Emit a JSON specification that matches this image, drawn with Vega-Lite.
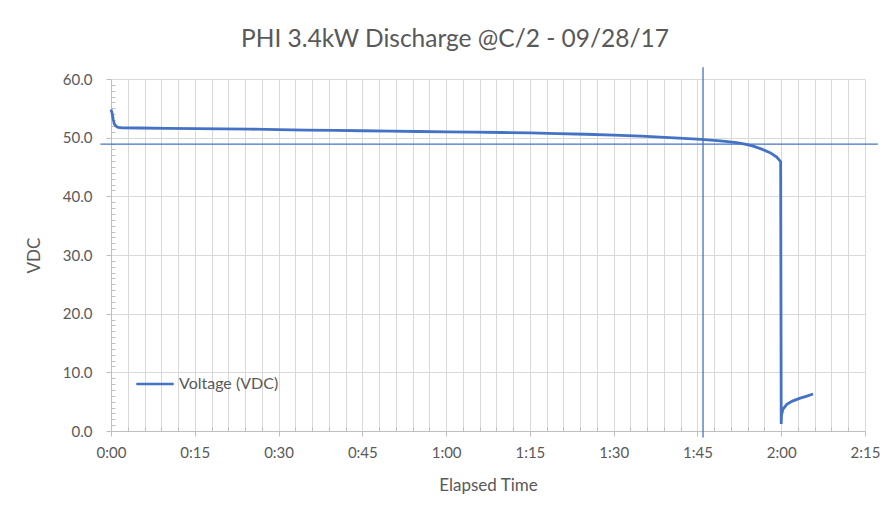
{
  "$schema": "https://vega.github.io/schema/vega-lite/v6.json",
  "width": 754,
  "height": 352,
  "autosize": {"type": "none"},
  "padding": {"left": 111, "top": 79, "right": 27, "bottom": 83},
  "background": "white",
  "title": {
    "text": "PHI 3.4kW Discharge @C/2 - 09/28/17",
    "font": "Lato",
    "fontSize": 24.5,
    "fontWeight": "normal",
    "color": "#595959",
    "anchor": "middle",
    "dx": -33,
    "offset": 14
  },
  "config": {
    "view": {"stroke": null},
    "axis": {
      "labelFont": "Lato",
      "labelFontSize": 15,
      "labelColor": "#595959",
      "titleFont": "Lato",
      "titleFontSize": 17,
      "titleFontWeight": "normal",
      "titleColor": "#595959",
      "gridColor": "#d9d9d9",
      "domainColor": "#bfbfbf",
      "tickColor": "#bfbfbf",
      "labelOverlap": false,
      "labelBound": false,
      "labelFlush": false
    },
    "legend": {"labelFont": "Lato", "labelFontSize": 16, "labelColor": "#595959"}
  },
  "datasets": {
    "volts": [
      {"t": 0, "v": 54.8, "s": "Voltage (VDC)"},
      {"t": 0.2, "v": 54.2, "s": "Voltage (VDC)"},
      {"t": 0.4, "v": 53.1, "s": "Voltage (VDC)"},
      {"t": 0.6, "v": 52.3, "s": "Voltage (VDC)"},
      {"t": 0.9, "v": 51.95, "s": "Voltage (VDC)"},
      {"t": 1.3, "v": 51.75, "s": "Voltage (VDC)"},
      {"t": 2, "v": 51.68, "s": "Voltage (VDC)"},
      {"t": 5, "v": 51.65, "s": "Voltage (VDC)"},
      {"t": 10, "v": 51.6, "s": "Voltage (VDC)"},
      {"t": 15, "v": 51.55, "s": "Voltage (VDC)"},
      {"t": 20, "v": 51.5, "s": "Voltage (VDC)"},
      {"t": 25, "v": 51.45, "s": "Voltage (VDC)"},
      {"t": 30, "v": 51.38, "s": "Voltage (VDC)"},
      {"t": 35, "v": 51.3, "s": "Voltage (VDC)"},
      {"t": 40, "v": 51.25, "s": "Voltage (VDC)"},
      {"t": 45, "v": 51.18, "s": "Voltage (VDC)"},
      {"t": 50, "v": 51.12, "s": "Voltage (VDC)"},
      {"t": 55, "v": 51.05, "s": "Voltage (VDC)"},
      {"t": 60, "v": 51.0, "s": "Voltage (VDC)"},
      {"t": 65, "v": 50.95, "s": "Voltage (VDC)"},
      {"t": 70, "v": 50.88, "s": "Voltage (VDC)"},
      {"t": 75, "v": 50.8, "s": "Voltage (VDC)"},
      {"t": 80, "v": 50.7, "s": "Voltage (VDC)"},
      {"t": 85, "v": 50.58, "s": "Voltage (VDC)"},
      {"t": 90, "v": 50.42, "s": "Voltage (VDC)"},
      {"t": 95, "v": 50.25, "s": "Voltage (VDC)"},
      {"t": 100, "v": 50.02, "s": "Voltage (VDC)"},
      {"t": 105, "v": 49.75, "s": "Voltage (VDC)"},
      {"t": 108, "v": 49.55, "s": "Voltage (VDC)"},
      {"t": 110, "v": 49.38, "s": "Voltage (VDC)"},
      {"t": 112, "v": 49.15, "s": "Voltage (VDC)"},
      {"t": 113.5, "v": 48.9, "s": "Voltage (VDC)"},
      {"t": 115, "v": 48.55, "s": "Voltage (VDC)"},
      {"t": 116.5, "v": 48.05, "s": "Voltage (VDC)"},
      {"t": 118, "v": 47.45, "s": "Voltage (VDC)"},
      {"t": 119.2, "v": 46.7, "s": "Voltage (VDC)"},
      {"t": 119.9, "v": 45.9, "s": "Voltage (VDC)"},
      {"t": 120.0, "v": 1.2, "s": "Voltage (VDC)"},
      {"t": 120.05, "v": 2.7, "s": "Voltage (VDC)"},
      {"t": 120.3, "v": 3.7, "s": "Voltage (VDC)"},
      {"t": 121, "v": 4.55, "s": "Voltage (VDC)"},
      {"t": 122, "v": 5.1, "s": "Voltage (VDC)"},
      {"t": 123.4, "v": 5.6, "s": "Voltage (VDC)"},
      {"t": 124.6, "v": 5.95, "s": "Voltage (VDC)"},
      {"t": 125.7, "v": 6.3, "s": "Voltage (VDC)"}
    ],
    "hline": [{"x1": -1.9, "x2": 137.3, "y": 48.9}],
    "vline": [{"x": 106, "y1": -1.1, "y2": 62.0}]
  },
  "layer": [
    {
      "data": {"name": "volts"},
      "mark": {"type": "line", "strokeWidth": 2.8, "interpolate": "linear"},
      "encoding": {
        "x": {
          "field": "t",
          "type": "quantitative",
          "title": "Elapsed Time",
          "scale": {"domain": [0, 135], "nice": false, "zero": false},
          "axis": {
            "values": [0,3,6,9,12,15,18,21,24,27,30,33,36,39,42,45,48,51,54,57,60,63,66,69,72,75,78,81,84,87,90,93,96,99,102,105,108,111,114,117,120,123,126,129,132,135],
            "tickCount": 200,
            "labelExpr": "datum.value % 15 === 0 ? floor(datum.value/60) + ':' + (datum.value % 60 < 10 ? '0' : '') + (datum.value % 60) : ''",
            "tickSize": {"condition": {"test": "datum.value % 15 === 0", "value": 5}, "value": -4},
            "labelPadding": 9,
            "titlePadding": 17,
            "grid": true
          }
        },
        "y": {
          "field": "v",
          "type": "quantitative",
          "title": "VDC",
          "scale": {"domain": [0, 60], "nice": false},
          "axis": {
            "values": [0,1,2,3,4,5,6,7,8,9,10,11,12,13,14,15,16,17,18,19,20,21,22,23,24,25,26,27,28,29,30,31,32,33,34,35,36,37,38,39,40,41,42,43,44,45,46,47,48,49,50,51,52,53,54,55,56,57,58,59,60],
            "tickCount": 200,
            "labelExpr": "datum.value % 10 === 0 ? format(datum.value, '.1f') : ''",
            "tickSize": {"condition": {"test": "datum.value % 10 === 0", "value": 5}, "value": -4},
            "gridOpacity": {"condition": {"test": "datum.value % 10 === 0", "value": 1}, "value": 0},
            "labelPadding": 14,
            "titlePadding": 19,
            "grid": true
          }
        },
        "order": {"field": "t", "type": "quantitative"},
        "color": {
          "field": "s",
          "type": "nominal",
          "scale": {"domain": ["Voltage (VDC)"], "range": ["#4472C4"]},
          "legend": {
            "title": null,
            "orient": "none",
            "legendX": 24,
            "legendY": 285,
            "symbolType": "stroke",
            "symbolSize": 1400,
            "symbolStrokeWidth": 2.5,
            "labelOffset": 4
          }
        }
      }
    },
    {
      "data": {"name": "hline"},
      "mark": {"type": "rule", "color": "#4472C4", "strokeWidth": 1.3},
      "encoding": {
        "x": {"field": "x1", "type": "quantitative"},
        "x2": {"field": "x2"},
        "y": {"field": "y", "type": "quantitative"}
      }
    },
    {
      "data": {"name": "vline"},
      "mark": {"type": "rule", "color": "#4472C4", "strokeWidth": 1.3},
      "encoding": {
        "x": {"field": "x", "type": "quantitative"},
        "y": {"field": "y1", "type": "quantitative"},
        "y2": {"field": "y2"}
      }
    }
  ]
}
